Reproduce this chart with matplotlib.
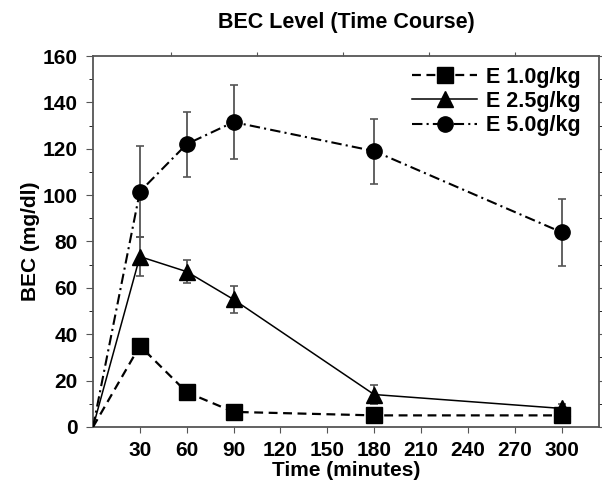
import matplotlib.pyplot as plt

plt.rcParams['font.family'] = ['Liberation Sans', 'DejaVu Sans']
plt.rcParams['font.weight'] = 'bold'

# time points (minutes), 0 = baseline
time = [0, 30, 60, 90, 180, 300]

bec_1 = [0, 35, 15, 6.5, 5, 5]
err_1 = [0, 3, 2, 1.5, 1, 1]

bec_25 = [0, 73.5, 67, 55, 14, 8]
err_25 = [0, 8.5, 5, 6, 4, 2]

bec_5 = [0, 101.5, 122, 131.5, 119, 84]
err_5 = [0, 19.5, 14, 16, 14, 14.5]

labels = ['E 1.0g/kg', 'E 2.5g/kg', 'E 5.0g/kg']
xticks = [30, 60, 90, 120, 150, 180, 210, 240, 270, 300]

fig = plt.figure(figsize=(6.02, 4.83), dpi=100)
ax = fig.add_axes([0.1545, 0.116, 0.8405, 0.768])

series = [
    (bec_1, err_1, 's', (0, (4, 2.5)), 1.6, labels[0]),
    (bec_25, err_25, '^', '-', 1.1, labels[1]),
    (bec_5, err_5, 'o', (0, (5, 2, 1, 2)), 1.5, labels[2]),
]
for y, e, m, ls, lw, lab in series:
    ax.errorbar(time[1:], y[1:], yerr=e[1:], fmt='none', ecolor='#555555',
                elinewidth=1.3, capsize=3, capthick=1.2, zorder=2)
    ax.plot(time, y, color='black', linestyle=ls, linewidth=lw, marker=m,
            markersize=11, markevery=list(range(1, len(time))),
            label=lab, zorder=3)

ax.set_xlim(0, 324)
ax.set_ylim(0, 160)
ax.set_xticks(xticks)
ax.set_yticks(range(0, 161, 20))
ax.set_yticks(range(0, 161, 10), minor=True)
ax.tick_params(axis='both', labelsize=15, direction='out', color='#555555')
ax.tick_params(axis='x', length=4, pad=6)
ax.tick_params(axis='y', which='major', length=5, pad=6, right=True)
ax.tick_params(axis='y', which='minor', length=3, right=True)
for s in ax.spines.values():
    s.set_color('#555555')
    s.set_linewidth(1.3)

top = ax.secondary_xaxis('top')
top.set_xticks([50, 105, 160, 215, 270])
top.set_xticklabels([])
top.tick_params(direction='out', length=3, color='#555555')
top.spines['top'].set_visible(False)

ax.set_xlabel('Time (minutes)', fontsize=15, fontweight='bold', labelpad=1)
ax.set_ylabel('BEC (mg/dl)', fontsize=15, fontweight='bold', labelpad=2)
ax.set_title('BEC Level (Time Course)', fontsize=15.5, fontweight='bold', pad=20)

leg = ax.legend(loc='upper right', bbox_to_anchor=(0.984, 1.0), frameon=False,
                handlelength=3.0, borderaxespad=0.1, labelspacing=0.15,
                handletextpad=0.4, prop={'weight': 'bold', 'size': 15.5})

fig.savefig('out.png', dpi=100)
